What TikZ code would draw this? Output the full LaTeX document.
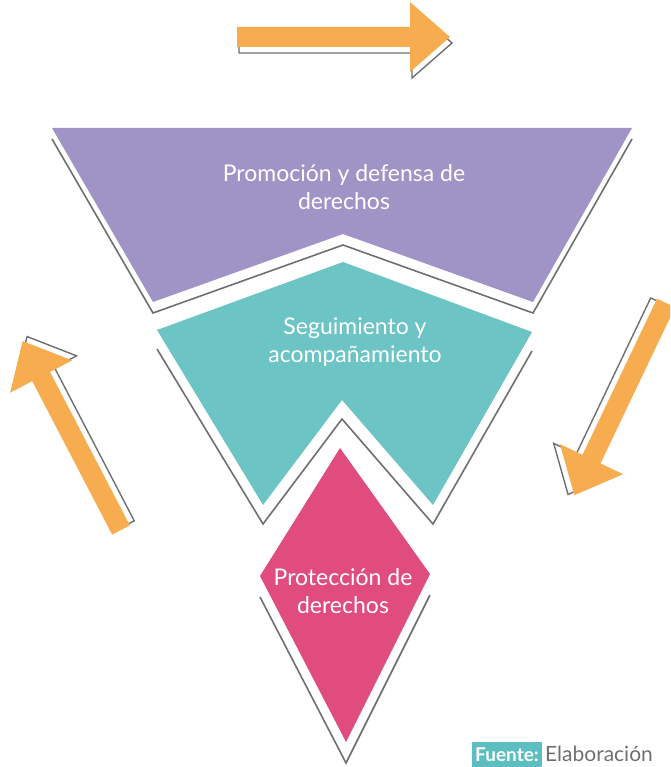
\documentclass[tikz,border=0pt]{standalone}
\usepackage{fontspec}
\setmainfont{Lato}
\definecolor{lila}{RGB}{160,148,198}
\definecolor{turquesa}{RGB}{108,196,196}
\definecolor{rosa}{RGB}{225,76,126}
\definecolor{naranja}{RGB}{247,172,79}
\definecolor{gris}{RGB}{110,111,113}
\definecolor{cajafuente}{RGB}{92,190,192}
\begin{document}
\begin{tikzpicture}[x=1pt,y=-1pt]

	\tikzstyle{texto} = [text=white,align=center,font=\fontsize{23}{28}\selectfont]
	\tikzstyle{contorno} = [draw=gris,line width=1.6pt]
	\tikzstyle{sombra} = [draw=gris,line width=1.4pt]
	\tikzstyle{fuente} = [fill=cajafuente,text=white,font=\fontsize{19}{21}\selectfont\bfseries,inner sep=3pt,minimum height=25pt]
	\tikzset{pics/flechon/.style={code={
		\draw[sombra,shift={(2,6)}] (0,-10) -- (173,-10) -- (173,-35) -- (213,0) -- (173,35) -- (173,10) -- (0,10) -- cycle;
		\fill[naranja] (0,-10) -- (173,-10) -- (173,-35) -- (213,0) -- (173,35) -- (173,10) -- (0,10) -- cycle;
	}}}

	\useasboundingbox (0,0) rectangle (670,767);
	\clip (0,0) rectangle (670,767);

	% flechas del ciclo
	\pic at (237,37) {flechon};
	\pic[rotate=244.5] at (666,303) {flechon};
	\pic[rotate=117.5] at (121,530) {flechon};

	% promocion
	\draw[contorno,shift={(0,11)}] (52,128) -- (153,302) -- (343,234) -- (533,302) -- (632,128);
	\fill[lila] (52,128) -- (632,128) -- (533,302) -- (343,234) -- (153,302) -- cycle;

	% seguimiento
	\draw[contorno,shift={(0,19)}] (157,330) -- (263,505) -- (342,400) -- (433,505) -- (532,332);
	\fill[turquesa] (157,330) -- (343,262) -- (532,332) -- (433,505) -- (342,400) -- (263,505) -- cycle;

	% proteccion
	\draw[contorno,shift={(0,21)}] (260,576) -- (346,742) -- (430,574);
	\fill[rosa] (340,448) -- (430,574) -- (346,742) -- (260,576) -- cycle;

	\node[texto] (promo) at (344,187) {Promoción y defensa de\\derechos};
	\node[texto] (segui) at (355,342) {Seguimiento y\\acompañamiento};
	\node[texto] (prote) at (343,591) {Protección de\\derechos};

	\node[fuente,anchor=south west] (fte) at (472,767) {Fuente:};
	\node[anchor=west,text=gris,font=\fontsize{21}{23}\selectfont,inner sep=3pt] (elab) at (fte.east) {Elaboración};

\end{tikzpicture}
\end{document}
